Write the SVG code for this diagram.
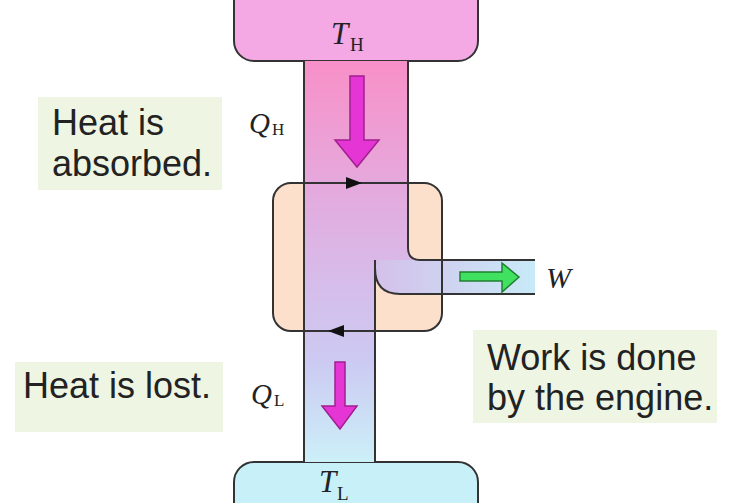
<svg xmlns="http://www.w3.org/2000/svg" width="730" height="503" viewBox="0 0 730 503">
<style>
.lbl{font-family:"Liberation Sans",Arial,sans-serif;font-size:36px;fill:#222}
.m{font-family:"Liberation Serif","Times New Roman",serif;font-style:italic;fill:#222}
.s{font-family:"Liberation Serif","Times New Roman",serif;fill:#222}
.ln{fill:none;stroke:#333;stroke-width:2}
.box{fill:#eef5e3}
.heat{fill:#e535d5;stroke:#a0208f;stroke-width:1.5;stroke-linejoin:miter}
</style>
<defs>
<linearGradient id="colg" x1="0" y1="61" x2="0" y2="462" gradientUnits="userSpaceOnUse">
<stop offset="0" stop-color="#f890c8"/>
<stop offset="0.3" stop-color="#e6a8dc"/>
<stop offset="0.55" stop-color="#d6bcea"/>
<stop offset="0.75" stop-color="#cccaf2"/>
<stop offset="1" stop-color="#ccf0f8"/>
</linearGradient>
<linearGradient id="chg" x1="375" y1="0" x2="535" y2="0" gradientUnits="userSpaceOnUse">
<stop offset="0" stop-color="#d4c0ea"/>
<stop offset="1" stop-color="#c8eaf8"/>
</linearGradient>
</defs>
<rect width="730" height="503" fill="#fff"/>
<g id="label-absorbed">
<rect class="box" x="38" y="97" width="184" height="93"/>
<text class="lbl" x="52" y="135">Heat is</text>
<text class="lbl" x="52" y="176">absorbed.</text>
</g>
<g id="label-lost">
<rect class="box" x="15" y="362" width="208" height="70"/>
<text class="lbl" x="23" y="398">Heat is lost.</text>
</g>
<g id="label-work">
<rect class="box" x="473" y="330" width="244" height="93"/>
<text class="lbl" x="487" y="370">Work is done</text>
<text class="lbl" x="487" y="410">by the engine.</text>
</g>
<g id="hot-reservoir">
<rect x="234" y="-30" width="244" height="91" rx="20" fill="#f4a8e4" stroke="#333" stroke-width="2"/>
<text class="m" x="331" y="44" font-size="31">T</text>
<text class="s" x="350" y="51" font-size="19">H</text>
</g>
<g id="cold-reservoir">
<rect x="234" y="462" width="244" height="70" rx="20" fill="#c8f0f8" stroke="#333" stroke-width="2"/>
<text class="m" x="319" y="492" font-size="31">T</text>
<text class="s" x="337" y="500" font-size="19">L</text>
</g>
<g id="engine">
<rect x="273" y="183" width="169" height="148" rx="18" fill="#fde0cc"/>
</g>
<g id="connectors">
<path d="M304,61 H408 V248 Q408,260 420,260 H535 V294 H400 Q375,294 375,268 V462 H304 Z" fill="url(#colg)"/>
<path d="M378,260 H535 V294 H400 Q375,294 375,268 Z" fill="url(#chg)"/>
<rect x="273" y="183" width="169" height="148" rx="18" class="ln"/>
<path class="ln" d="M304,61 V462"/>
<path class="ln" d="M408,61 V248 Q408,260 420,260 H535"/>
<path class="ln" d="M535,294 H400 Q375,294 375,268 V462"/>
<path class="ln" d="M375,260 V270"/>
<polygon points="362,183 346,177 346,189" fill="#111"/>
<polygon points="328,331 344,325 344,337" fill="#111"/>
<polygon class="heat" points="350,76 364,76 364,140 379,140 357,167 335,140 350,140"/>
<polygon class="heat" points="335,362 345,362 345,406 357,406 340,429 322,406 335,406"/>
<polygon points="460,272 502,272 502,263 519,277 502,292 502,281 460,281" fill="#40e060" stroke="#208030" stroke-width="1.5"/>
</g>
<g id="math-labels">
<text class="m" x="249" y="133" font-size="29">Q</text>
<text class="s" x="272" y="135" font-size="17">H</text>
<text class="m" x="251" y="404" font-size="29">Q</text>
<text class="s" x="274" y="406" font-size="17">L</text>
<text class="m" x="546" y="288" font-size="30">W</text>
</g>
</svg>
